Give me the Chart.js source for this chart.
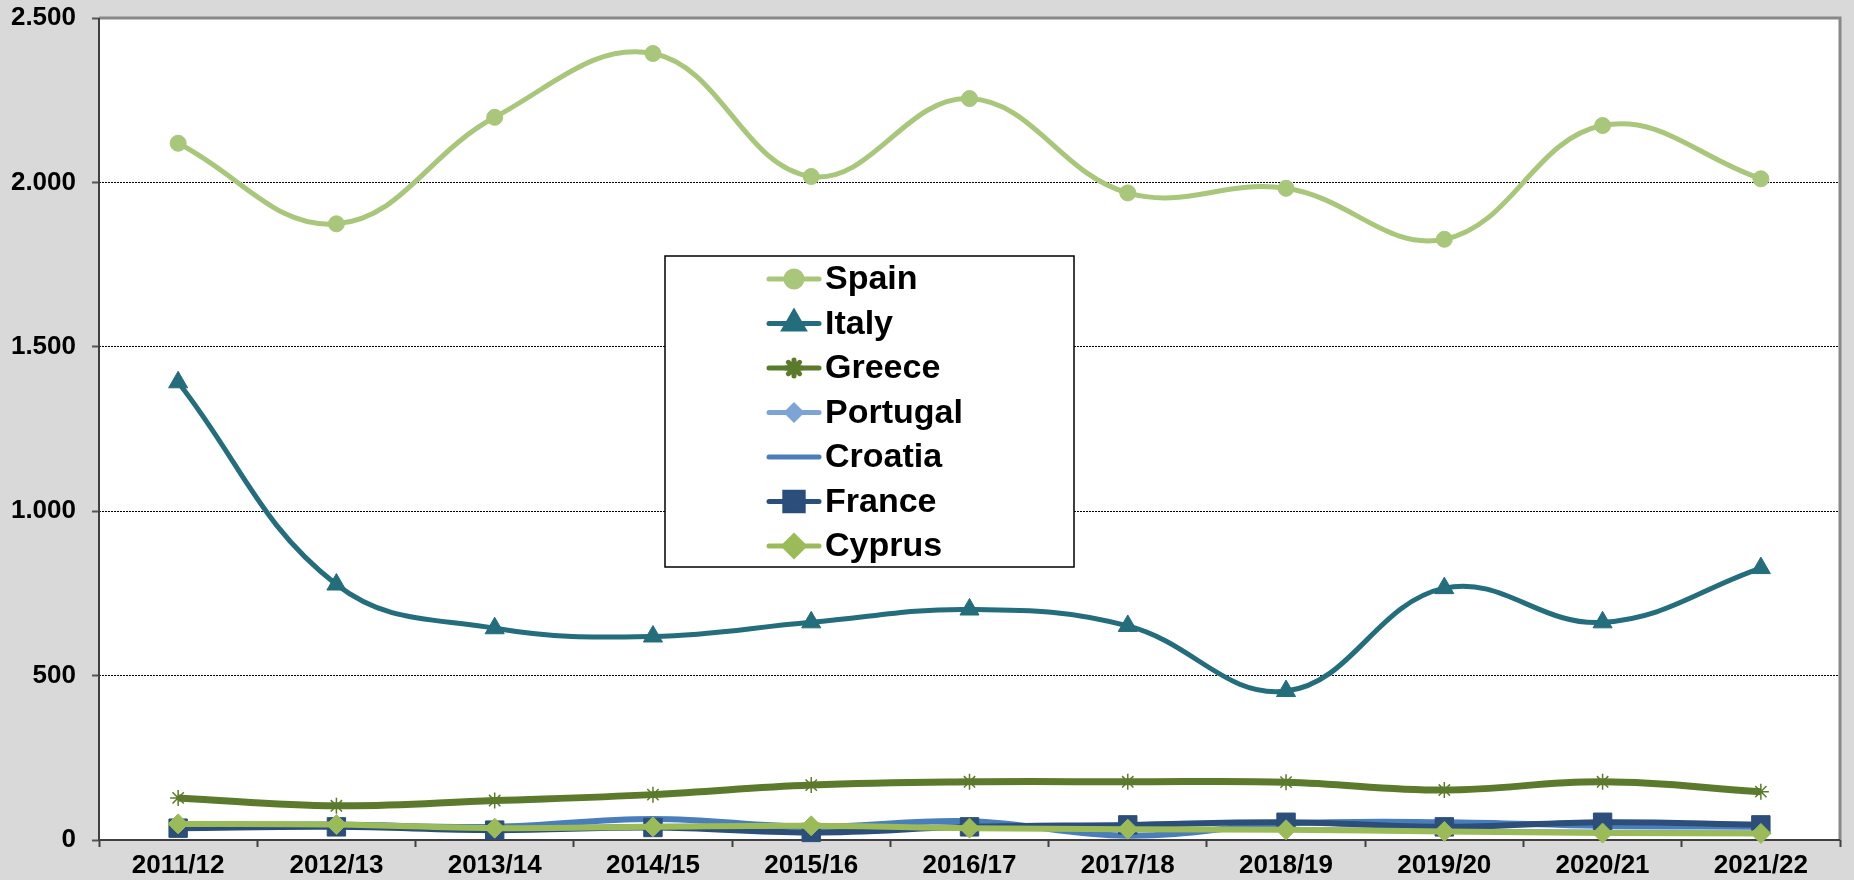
<!DOCTYPE html>
<html>
<head>
<meta charset="utf-8">
<script src="https://cdn.jsdelivr.net/npm/chart.js@4/dist/chart.umd.min.js"></script>
<style>
  body { margin:0; background:#d9d9d9; }
  #wrap { width:1854px; height:880px; }
</style>
</head>
<body>
<div id="wrap"><canvas id="c" width="1854" height="880"></canvas></div>
<script>
const seasons = ['2011/12','2012/13','2013/14','2014/15','2015/16','2016/17','2017/18','2018/19','2019/20','2020/21','2021/22'];
const yTicks = [0, 500, 1000, 1500, 2000, 2500];

const spain    = [2119, 1874, 2198, 2392, 2018, 2255, 1968, 1982, 1827, 2173, 2011];
const italy    = [1392, 777, 644, 619, 662, 701, 651, 453, 766, 662, 827];
const greece   = [128, 104, 120, 138, 167, 177, 177, 176, 152, 177, 147];
const portugal = [48, 46, 38, 42, 42, 38, 34, 32, 28, 24, 22];
const croatia  = [45, 47, 40, 64, 40, 57, 13, 50, 54, 43, 40];
const france   = [36, 40, 30, 38, 23, 40, 46, 54, 40, 54, 46];
const cyprus   = [49, 47, 36, 40, 43, 36, 33, 31, 26, 21, 20];

const fmt = v => v.toLocaleString('de-DE');
const FONT = '"Liberation Sans", Arial, sans-serif';

function ds(label, data, color, width, style, radius, order) {
  return { label, data, borderColor: color, backgroundColor: color, borderWidth: width,
    pointStyle: style, pointRadius: radius, pointHoverRadius: radius, pointBorderWidth: style === 'star' ? 1.5 : 1,
    pointBackgroundColor: color, pointBorderColor: color, tension: 0.4, order, clip: false };
}

const datasets = [
  ds('Spain', spain, '#a9c77b', 5, 'circle', 8, 6),
  ds('Italy', italy, '#236d7c', 5, 'triangle', 11, 5),
  ds('Greece', greece, '#5c7a2c', 7, 'star', 8, 4),
  ds('Portugal', portugal, '#7ea4d5', 5, 'rectRot', 7, 3),
  ds('Croatia', croatia, '#4a7ebb', 6, false, 0, 2),
  ds('France', france, '#2b4e7b', 6, 'rect', 13, 1),
  ds('Cyprus', cyprus, '#9bbb59', 6, 'rectRot', 10, 0)
];

// white plot area + frame
const plotFrame = {
  id: 'plotFrame',
  beforeDraw(chart) {
    const { ctx, chartArea: a } = chart;
    ctx.save();
    ctx.fillStyle = '#d9d9d9';
    ctx.fillRect(0, 0, chart.width, chart.height);
    ctx.fillStyle = '#fff';
    ctx.fillRect(a.left, a.top, a.right - a.left, a.bottom - a.top);
    ctx.restore();
  },
  beforeDatasetsDraw(chart) {
    const { ctx, chartArea: a } = chart;
    ctx.save();
    ctx.strokeStyle = '#888';
    ctx.lineWidth = 3;
    ctx.beginPath();
    ctx.moveTo(a.left, a.top); ctx.lineTo(a.right, a.top); ctx.lineTo(a.right, a.bottom);
    ctx.stroke();
    ctx.strokeStyle = '#404040';
    ctx.lineWidth = 2;
    ctx.beginPath();
    ctx.moveTo(a.left, a.top); ctx.lineTo(a.left, a.bottom); ctx.lineTo(a.right, a.bottom);
    ctx.stroke();
    ctx.restore();
  }
};

// boxed legend in the middle of the plot
const boxLegend = {
  id: 'boxLegend',
  afterDraw(chart) {
    const ctx = chart.ctx;
    const x0 = 665, y0 = 256, w = 409, h = 311;
    ctx.save();
    ctx.fillStyle = '#fff';
    ctx.fillRect(x0, y0, w, h);
    ctx.strokeStyle = '#000';
    ctx.lineWidth = 1.5;
    ctx.strokeRect(x0, y0, w, h);
    ctx.font = 'bold 34px ' + FONT;
    ctx.textBaseline = 'middle';
    chart.data.datasets.forEach((d, i) => {
      const y = 279 + i * 44.5;
      ctx.strokeStyle = d.borderColor;
      ctx.lineWidth = 5;
      ctx.lineCap = 'round';
      ctx.beginPath();
      ctx.moveTo(769, y); ctx.lineTo(819, y);
      ctx.stroke();
      if (d.pointStyle) {
        Chart.helpers.drawPoint(ctx, {
          pointStyle: d.pointStyle, radius: d.pointRadius, rotation: 0,
          borderWidth: d.pointBorderWidth
        }, 794, y);
        ctx.fillStyle = d.pointBackgroundColor;
        ctx.lineWidth = d.pointBorderWidth;
        ctx.fill();
        ctx.stroke();
      }
      ctx.fillStyle = '#000';
      ctx.fillText(d.label, 825, y + 1);
    });
    ctx.restore();
  }
};

new Chart(document.getElementById('c'), {
  type: 'line',
  data: { labels: seasons, datasets },
  options: {
    responsive: false,
    animation: false,
    layout: { padding: { top: 18, right: 5, left: 0, bottom: 0 } },
    plugins: { legend: { display: false }, tooltip: { enabled: false } },
    scales: {
      x: {
        offset: true,
        grid: { display: true, drawOnChartArea: false, offset: true, tickLength: 7, tickColor: '#404040', tickWidth: 2 },
        border: { display: false },
        ticks: { color: '#000', font: { family: FONT, size: 26, weight: 'bold' }, padding: 3, maxRotation: 0, autoSkip: false },
        afterFit(s) { s.height = 40; s.paddingLeft = 0; s.paddingRight = 0; }
      },
      y: {
        min: 0, max: 2500,
        afterBuildTicks(s) { s.ticks = yTicks.map(v => ({ value: v })); },
        grid: { color: '#000', lineWidth: 1, tickLength: 7, tickColor: '#555', tickWidth: 2 },
        border: { display: false, dash: [2, 1] },
        ticks: { color: '#000', font: { family: FONT, size: 26, weight: 'bold' }, padding: 16, callback: v => fmt(v) },
        afterFit(s) { s.width = 99; s.paddingTop = 0; s.paddingBottom = 0; }
      }
    }
  },
  plugins: [plotFrame, boxLegend]
});
</script>
</body>
</html>
